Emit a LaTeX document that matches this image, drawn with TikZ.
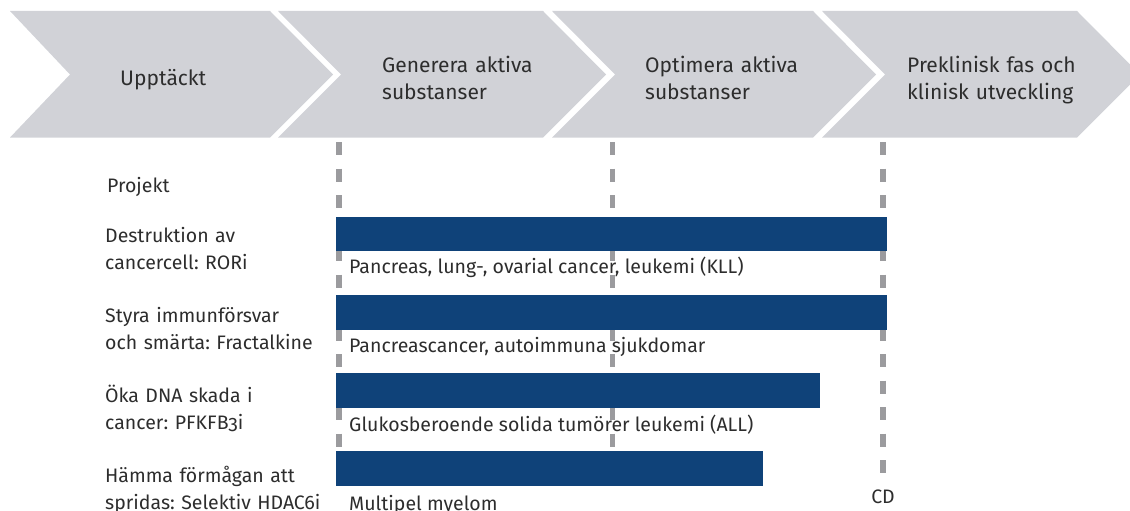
\documentclass[tikz,border=0pt]{standalone}
\usepackage{fontspec}
\setmainfont{Fira Sans}[Numbers=OldStyle]
\definecolor{bandgray}{RGB}{209,210,215}
\definecolor{barblue}{RGB}{15,66,121}
\definecolor{guidegray}{RGB}{155,155,158}
\definecolor{txtgray}{RGB}{45,45,45}
\frenchspacing
\begin{document}
\begin{tikzpicture}[x=1pt,y=-1pt,
  band/.style={fill=bandgray, draw=none},
  phase/.style={anchor=base west, inner sep=0pt, text=txtgray, align=left, text width=300pt,
    font=\fontsize{21}{27}\selectfont},
  lbl/.style={anchor=base west, inner sep=0pt, text=txtgray, align=left, text width=300pt,
    font=\fontsize{19.5}{27}\selectfont},
  sub/.style={anchor=base west, inner sep=0pt, text=txtgray, font=\fontsize{19.5}{27}\selectfont},
  barbox/.style={anchor=north west, fill=barblue, draw=none, inner sep=0pt, minimum height=34.5pt},
  guide/.style={draw=guidegray, line width=5.3pt, dash pattern=on 13pt off 13.5pt}
]
\useasboundingbox (0,0) rectangle (1130,511);
\begin{scope}
\clip (0,0) rectangle (1130,511);
% chevron band
\fill[band] (10,11) -- (270,11) -- (333,74.5) -- (270,137.5) -- (10,137.5) -- (70,74.5) -- cycle;
\fill[band] (278,11) -- (543,11) -- (606,74.5) -- (543,137.5) -- (278,137.5) -- (341,74.5) -- cycle;
\fill[band] (552,11) -- (813,11) -- (876,74.5) -- (813,137.5) -- (552,137.5) -- (615,74.5) -- cycle;
\fill[band] (822,11) -- (1077,11) -- (1140,74.5) -- (1077,137.5) -- (822,137.5) -- (885,74.5) -- cycle;
\end{scope}

% phase labels
\node[phase] (p1) at (120,85) {Upptäckt};
\node[phase] (p2) at (382,72.5) {Generera aktiva\\substanser};
\node[phase] (p3) at (645,72.5) {Optimera aktiva\\substanser};
\node[phase] (p4) at (907,72.5) {Preklinisk fas och\\klinisk utveckling};

% guide lines
\coordinate (g1t) at (339,142);
\coordinate (g1b) at (339,451);
\coordinate (g2t) at (612.5,142);
\coordinate (g2b) at (612.5,451);
\coordinate (g3t) at (883,142);
\coordinate (g3b) at (883,475);
\draw[guide] (g1t) -- (g1b);
\draw[guide] (g2t) -- (g2b);
\draw[guide] (g3t) -- (g3b);

% project header
\node[sub] (proj) at (107,192) {Projekt};

% project labels
\node[lbl] (l1) at (105,242) {Destruktion av\\cancercell: RORi};
\node[lbl] (l2) at (105,322) {Styra immunförsvar\\och smärta: Fractalkine};
\node[lbl] (l3) at (105,402) {Öka DNA skada i\\cancer: PFKFB3i};
\node[lbl] (l4) at (105,482) {Hämma förmågan att\\spridas: Selektiv HDAC6i};

% bars
\node[barbox, minimum width=551pt] (b1) at (336,216.5) {};
\node[barbox, minimum width=551pt] (b2) at (336,295) {};
\node[barbox, minimum width=484pt] (b3) at (336,373) {};
\node[barbox, minimum width=427pt] (b4) at (336,451) {};

% bar subtitles
\node[sub] (s1) at (349,273) {Pancreas, lung-, ovarial cancer, leukemi (KLL)};
\node[sub] (s2) at (349,352) {Pancreascancer, autoimmuna sjukdomar};
\node[sub] (s3) at (349,431) {Glukosberoende solida tumörer leukemi (ALL)};
\node[sub] (s4) at (349,510) {Multipel myelom};

% milestone
\node[sub, anchor=base] (cd) at (883,503) {CD};
\end{tikzpicture}
\end{document}
